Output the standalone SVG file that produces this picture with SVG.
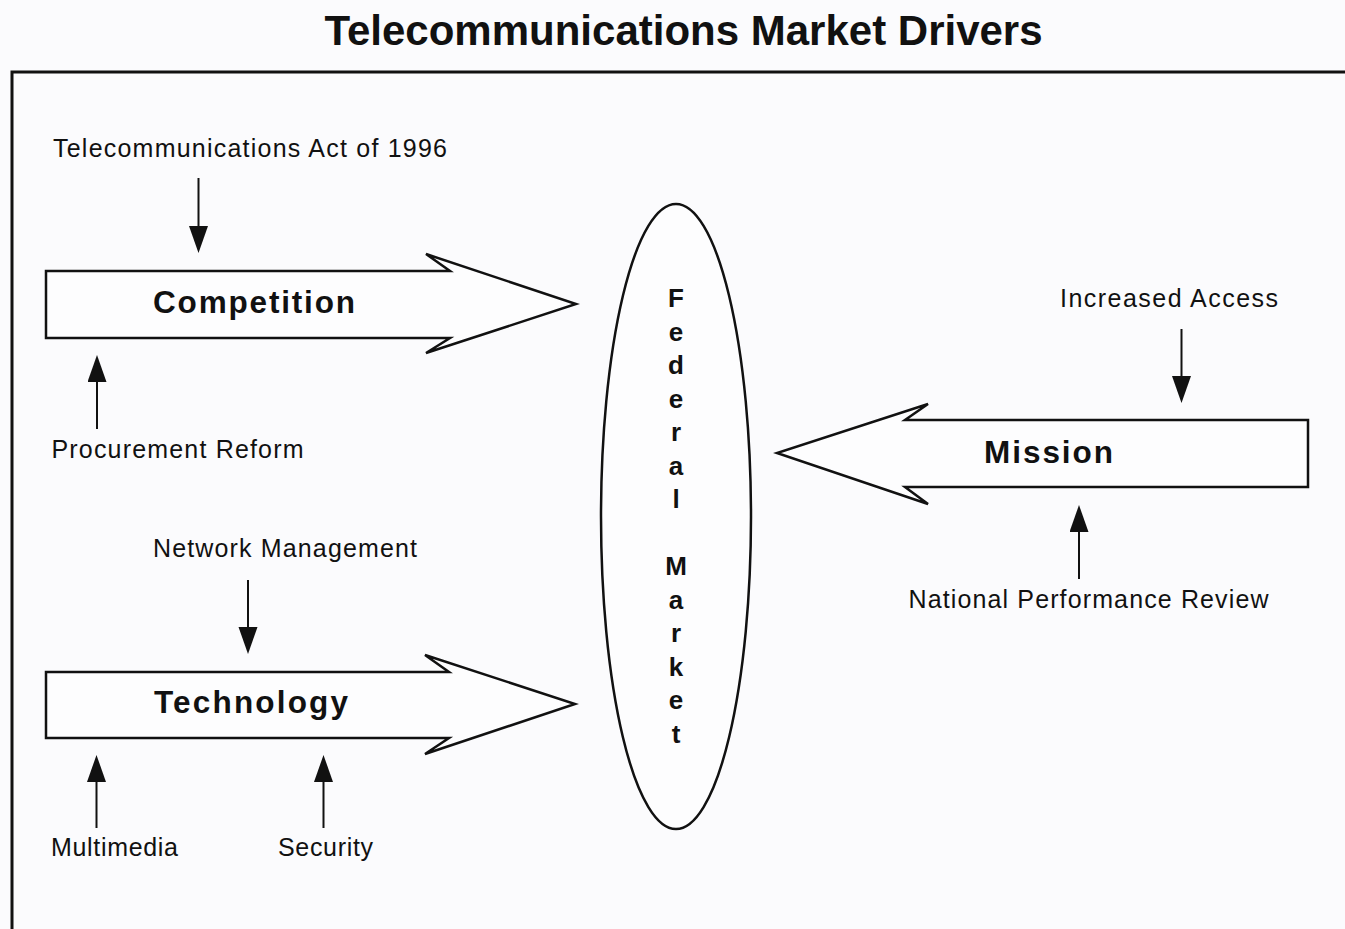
<svg xmlns="http://www.w3.org/2000/svg" width="1345" height="929" viewBox="0 0 1345 929">
  <style>
    .title { font-family: "Liberation Sans", Arial, sans-serif; font-weight: bold; font-size: 42px; fill: #111; }
    .big { font-family: "Liberation Sans", Arial, sans-serif; font-weight: bold; font-size: 31.5px; fill: #111; }
    .lbl { font-family: "Liberation Sans", Arial, sans-serif; font-size: 25px; fill: #111; }
    .vert { font-family: "Liberation Sans", Arial, sans-serif; font-weight: bold; font-size: 26px; fill: #111; text-anchor: middle; }
    .shape { fill: #fdfdfe; stroke: #111; stroke-width: 2.5; stroke-linejoin: miter; }
    .conn { stroke: #111; stroke-width: 2; fill: none; marker-end: url(#head); }
  </style>
  <defs>
    <marker id="head" markerUnits="userSpaceOnUse" markerWidth="28" markerHeight="20" refX="0" refY="9.5" orient="auto">
      <path d="M0,0 L27,9.5 L0,19 Z" fill="#111"/>
    </marker>
  </defs>

  <rect width="1345" height="929" fill="#fbfbfd"/>

  <!-- heading -->
  <text class="title" x="683.5" y="45" text-anchor="middle">Telecommunications Market Drivers</text>

  <!-- frame -->
  <path d="M12,929 V72 H1345" fill="none" stroke="#111" stroke-width="3"/>

  <!-- Competition -->
  <g id="competition">
    <path class="shape" d="M46,271 H450 L426,254 L576,304 L426,353 L450,338 H46 Z"/>
    <text class="big" x="153" y="313" textLength="202" lengthAdjust="spacing">Competition</text>
  </g>

  <!-- Technology -->
  <g id="technology">
    <path class="shape" d="M46,672 H449 L425,655 L575,704 L425,754 L449,738 H46 Z"/>
    <text class="big" x="154" y="713" textLength="194" lengthAdjust="spacing">Technology</text>
  </g>

  <!-- Mission -->
  <g id="mission">
    <path class="shape" d="M1308,420 H905 L928,404 L777,453 L928,504 L905,487 H1308 Z"/>
    <text class="big" x="984" y="463" textLength="129" lengthAdjust="spacing">Mission</text>
  </g>

  <!-- Federal Market -->
  <g id="federal-market">
    <ellipse cx="676" cy="516.5" rx="75" ry="312.5" fill="#fdfdfe" stroke="#111" stroke-width="2.5"/>
    <text class="vert" x="676" y="307">F</text>
    <text class="vert" x="676" y="340.5">e</text>
    <text class="vert" x="676" y="374">d</text>
    <text class="vert" x="676" y="407.5">e</text>
    <text class="vert" x="676" y="441">r</text>
    <text class="vert" x="676" y="474.5">a</text>
    <text class="vert" x="676" y="508">l</text>
    <text class="vert" x="676" y="575">M</text>
    <text class="vert" x="676" y="608.5">a</text>
    <text class="vert" x="676" y="642">r</text>
    <text class="vert" x="676" y="675.5">k</text>
    <text class="vert" x="676" y="709">e</text>
    <text class="vert" x="676" y="742.5">t</text>
  </g>

  <!-- influence labels -->
  <g id="telecom-act">
    <text class="lbl" x="53" y="157" textLength="394" lengthAdjust="spacing">Telecommunications Act of 1996</text>
  </g>
  <g id="procurement-reform">
    <text class="lbl" x="51.5" y="458" textLength="252" lengthAdjust="spacing">Procurement Reform</text>
  </g>
  <g id="network-management">
    <text class="lbl" x="153" y="557" textLength="264" lengthAdjust="spacing">Network Management</text>
  </g>
  <g id="multimedia">
    <text class="lbl" x="51" y="856" textLength="127" lengthAdjust="spacing">Multimedia</text>
  </g>
  <g id="security">
    <text class="lbl" x="278" y="856" textLength="95" lengthAdjust="spacing">Security</text>
  </g>
  <g id="increased-access">
    <text class="lbl" x="1060" y="307" textLength="218" lengthAdjust="spacing">Increased Access</text>
  </g>
  <g id="national-performance-review">
    <text class="lbl" x="908.5" y="608" textLength="360" lengthAdjust="spacing">National Performance Review</text>
  </g>

  <!-- connectors -->
  <g id="connectors">
    <line class="conn" x1="198.5" y1="178" x2="198.5" y2="226"/>
    <line class="conn" x1="97" y1="429" x2="97" y2="382"/>
    <line class="conn" x1="248" y1="580" x2="248" y2="627"/>
    <line class="conn" x1="96.5" y1="828" x2="96.5" y2="782"/>
    <line class="conn" x1="323.5" y1="828" x2="323.5" y2="782"/>
    <line class="conn" x1="1181.5" y1="329" x2="1181.5" y2="376"/>
    <line class="conn" x1="1079" y1="579" x2="1079" y2="532"/>
  </g>
</svg>
